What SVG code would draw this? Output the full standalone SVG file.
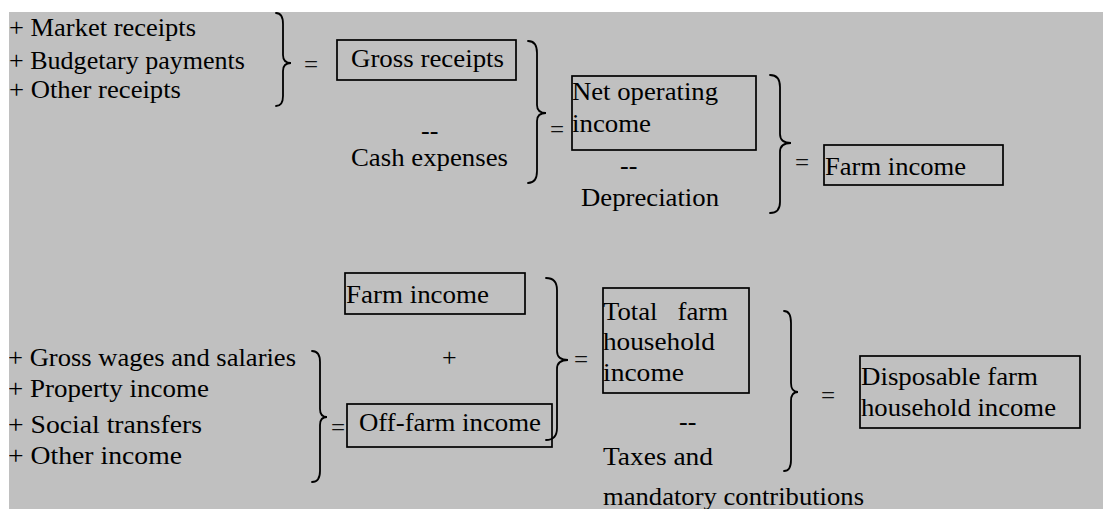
<svg xmlns="http://www.w3.org/2000/svg" width="1103" height="510" viewBox="0 0 1103 510">
<defs>
<style>
text{font-family:"Liberation Serif","Times New Roman",serif;fill:#000;font-size:26px}
.box{fill:none;stroke:#000;stroke-width:1.7}
.br{fill:none;stroke:#000;stroke-width:1.8;stroke-linecap:round}
.eq{font-size:25px;fill:#111}
</style>
<clipPath id="clip"><rect x="9" y="12" width="1094" height="497"/></clipPath>
</defs>
<rect x="9" y="12" width="1094" height="497" fill="#c0c0c0"/>
<g clip-path="url(#clip)">
<g id="inputs-top">
<text x="9" y="36" textLength="187" lengthAdjust="spacingAndGlyphs">+ Market receipts</text>
<text x="9" y="69" textLength="236" lengthAdjust="spacingAndGlyphs">+ Budgetary payments</text>
<text x="9" y="98" textLength="172" lengthAdjust="spacingAndGlyphs">+ Other receipts</text>
</g>
<g id="gross-receipts">
<rect class="box" x="337" y="40" width="179" height="40"/>
<text x="351" y="67" textLength="153" lengthAdjust="spacingAndGlyphs">Gross receipts</text>
</g>
<g id="cash-expenses">
<text x="421" y="139">--</text>
<text x="351" y="166" textLength="157" lengthAdjust="spacingAndGlyphs">Cash expenses</text>
</g>
<g id="net-operating-income">
<rect class="box" x="572" y="76" width="184" height="74"/>
<text x="572" y="100" textLength="146" lengthAdjust="spacingAndGlyphs">Net operating</text>
<text x="572" y="132" textLength="79" lengthAdjust="spacingAndGlyphs">income</text>
</g>
<g id="depreciation">
<text x="620" y="174">--</text>
<text x="581" y="206" textLength="138" lengthAdjust="spacingAndGlyphs">Depreciation</text>
</g>
<g id="farm-income-top">
<rect class="box" x="824" y="145" width="179" height="40"/>
<text x="825" y="175" textLength="141" lengthAdjust="spacingAndGlyphs">Farm income</text>
</g>
<g id="farm-income-bottom">
<rect class="box" x="345" y="273" width="180" height="41"/>
<text x="346" y="303" textLength="143" lengthAdjust="spacingAndGlyphs">Farm income</text>
</g>
<g id="plus">
<text x="442" y="366">+</text>
</g>
<g id="off-farm-income">
<rect class="box" x="347" y="404" width="205" height="43"/>
<text x="359" y="431" textLength="182" lengthAdjust="spacingAndGlyphs">Off-farm income</text>
</g>
<g id="inputs-bottom">
<text x="8" y="366" textLength="288" lengthAdjust="spacingAndGlyphs">+ Gross wages and salaries</text>
<text x="8" y="397" textLength="201" lengthAdjust="spacingAndGlyphs">+ Property income</text>
<text x="8" y="433" textLength="194" lengthAdjust="spacingAndGlyphs">+ Social transfers</text>
<text x="8" y="464" textLength="174" lengthAdjust="spacingAndGlyphs">+ Other income</text>
</g>
<g id="total-farm-household-income">
<rect class="box" x="603" y="288" width="146" height="105"/>
<text x="603" y="320" textLength="125" lengthAdjust="spacingAndGlyphs" xml:space="preserve">Total   farm</text>
<text x="603" y="350" textLength="112" lengthAdjust="spacingAndGlyphs">household</text>
<text x="603" y="381" textLength="81" lengthAdjust="spacingAndGlyphs">income</text>
</g>
<g id="taxes">
<text x="679" y="430">--</text>
<text x="603" y="465" textLength="110" lengthAdjust="spacingAndGlyphs">Taxes and</text>
<text x="603" y="505" textLength="261" lengthAdjust="spacingAndGlyphs">mandatory contributions</text>
</g>
<g id="disposable-farm-household-income">
<rect class="box" x="860" y="356" width="220" height="72"/>
<text x="861" y="385" textLength="177" lengthAdjust="spacingAndGlyphs">Disposable farm</text>
<text x="861" y="416" textLength="195" lengthAdjust="spacingAndGlyphs">household income</text>
</g>
<g id="connectors">
<path class="br" d="M276 13 Q283 13 283 24 L283 55 Q283 63 291 63 Q283 63 283 71 L283 96 Q283 106 276 106"/>
<path class="br" d="M528 41 Q537 41 537 53 L537 105 Q537 113 546 113 Q537 113 537 121 L537 171 Q537 183 528 183"/>
<path class="br" d="M770 75 Q780 75 780 87 L780 134 Q780 143 791 143 Q780 143 780 152 L780 202 Q780 213 770 213"/>
<path class="br" d="M546 278 Q557 278 557 290 L557 351 Q557 360 568 360 Q557 360 557 369 L557 428 Q557 440 546 440"/>
<path class="br" d="M312 351 Q320 351 320 362 L320 409 Q320 417 327 417 Q320 417 320 425 L320 471 Q320 482 312 482"/>
<path class="br" d="M784 311 Q791 311 791 323 L791 383 Q791 392 798 392 Q791 392 791 401 L791 460 Q791 471 784 471"/>
<text class="eq" x="304" y="73">=</text>
<text class="eq" x="550" y="138">=</text>
<text class="eq" x="795" y="171">=</text>
<text class="eq" x="331" y="436">=</text>
<text class="eq" x="574" y="368">=</text>
<text class="eq" x="821" y="404">=</text>
</g>
</g>
</svg>
